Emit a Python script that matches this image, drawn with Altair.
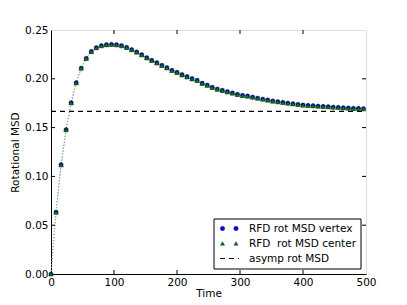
import altair as alt
import pandas as pd

times = [0, 8, 16, 24, 32, 40, 48, 56, 64, 72, 80, 88, 96, 104, 112, 120, 128, 136,
         144, 152, 160, 168, 176, 184, 192, 200, 208, 216, 224, 232, 240, 248, 256,
         264, 272, 280, 288, 296, 304, 312, 320, 328, 336, 344, 352, 360, 368, 376,
         384, 392, 400, 408, 416, 424, 432, 440, 448, 456, 464, 472, 480, 488, 496]

msd_vertex = [0.0, 0.0635, 0.112, 0.148, 0.1755, 0.196, 0.211, 0.221, 0.228, 0.232,
              0.234, 0.235, 0.2353, 0.235, 0.234, 0.2323, 0.230, 0.2275, 0.2247, 0.2216,
              0.219, 0.2165, 0.2138, 0.2114, 0.2087, 0.2067, 0.2042, 0.2022, 0.2001,
              0.1985, 0.1955, 0.1935, 0.1913, 0.1895, 0.1882, 0.1868, 0.1855, 0.1841,
              0.1831, 0.1824, 0.1813, 0.1803, 0.1793, 0.1783, 0.1773, 0.1766, 0.1759,
              0.1752, 0.1745, 0.1739, 0.1732, 0.1728, 0.1725, 0.1721, 0.1718, 0.1715,
              0.1711, 0.1708, 0.1704, 0.1701, 0.1698, 0.1698, 0.1694]

msd_center = [0.0, 0.0633, 0.1118, 0.1478, 0.1753, 0.1958, 0.2108, 0.2208, 0.2278, 0.2318,
              0.2338, 0.2348, 0.2351, 0.2348, 0.2338, 0.2321, 0.2298, 0.2273, 0.2245, 0.2214,
              0.2188, 0.2163, 0.2136, 0.2112, 0.2085, 0.2065, 0.2040, 0.2020, 0.1999,
              0.1983, 0.1953, 0.1933, 0.1911, 0.1893, 0.1880, 0.1866, 0.1853, 0.1839,
              0.1829, 0.1822, 0.1811, 0.1801, 0.1791, 0.1781, 0.1771, 0.1764, 0.1757,
              0.1750, 0.1743, 0.1737, 0.1730, 0.1726, 0.1723, 0.1719, 0.1716, 0.1713,
              0.1709, 0.1706, 0.1702, 0.1699, 0.1696, 0.1696, 0.1692]

msd_err = [0.0, 0.0002, 0.0003, 0.0004, 0.0005, 0.0006, 0.0007, 0.0008, 0.0008, 0.0009,
           0.0009, 0.0010, 0.0010, 0.0011, 0.0011, 0.0012, 0.0012, 0.0013, 0.0014, 0.0014,
           0.0015, 0.0015, 0.0016, 0.0017, 0.0017, 0.0018, 0.0019, 0.0020, 0.0020,
           0.0020, 0.0019, 0.0019, 0.0018, 0.0018, 0.0017, 0.0016, 0.0015, 0.0014,
           0.0013, 0.0012, 0.0011, 0.0010, 0.0010, 0.0009, 0.0009, 0.0008, 0.0008,
           0.0008, 0.0007, 0.0007, 0.0007, 0.0006, 0.0006, 0.0006, 0.0006, 0.0005,
           0.0005, 0.0005, 0.0005, 0.0005, 0.0005, 0.0005, 0.0005]

asymp_value = [0.1667]
x_ticks = [0, 100, 200, 300, 400, 500]
y_ticks = [0.0, 0.05, 0.10, 0.15, 0.20, 0.25]

W, H = 315, 244
FONT = "DejaVu Sans"
FS = 10.5

df = pd.DataFrame({
    "t": times,
    "vertex": msd_vertex,
    "center": msd_center,
    "err": msd_err,
})
df["v_lo"] = df["vertex"] - df["err"]
df["v_hi"] = df["vertex"] + df["err"]
df["c_lo"] = df["center"] - df["err"]
df["c_hi"] = df["center"] + df["err"]

xs = alt.Scale(domain=[0, 500], nice=False, zero=False)
ys = alt.Scale(domain=[0, 0.25], nice=False, zero=False)

xaxis = alt.Axis(values=x_ticks, format="d", ticks=False, grid=False, labelFont=FONT,
                 labelFontSize=FS, labelColor="black", labelPadding=3, domainColor="black",
                 titleFont=FONT, titleFontSize=FS, titleFontWeight="normal",
                 titleColor="black", titleBaseline="alphabetic", titleY=22,
                 labelFlush=False)
yaxis = alt.Axis(values=y_ticks, format=".2f", ticks=False, grid=False, labelFont=FONT,
                 labelFontSize=FS, labelColor="black", labelPadding=3, domainColor="black",
                 titleFont=FONT, titleFontSize=FS, titleFontWeight="normal",
                 titleColor="black", titlePadding=4, labelFlush=False)

base = alt.Chart(df)

axes_layer = base.mark_point(opacity=0).encode(
    x=alt.X("t:Q", scale=xs, axis=xaxis, title="Time"),
    y=alt.Y("vertex:Q", scale=ys, axis=yaxis, title="Rotational MSD"),
)

err_v = base.mark_rule(color="#9cc7c7", strokeWidth=1, opacity=0.8).encode(
    x=alt.X("t:Q", scale=xs), y=alt.Y("v_lo:Q", scale=ys), y2="v_hi:Q")
err_c = base.mark_rule(color="#a9d6b8", strokeWidth=1, opacity=0.8).encode(
    x=alt.X("t:Q", scale=xs), y=alt.Y("c_lo:Q", scale=ys), y2="c_hi:Q")
cap_v_hi = base.mark_tick(color="#9cc7c7", orient="horizontal", size=5, thickness=1).encode(
    x=alt.X("t:Q", scale=xs), y=alt.Y("v_hi:Q", scale=ys))
cap_v_lo = base.mark_tick(color="#9cc7c7", orient="horizontal", size=5, thickness=1).encode(
    x=alt.X("t:Q", scale=xs), y=alt.Y("v_lo:Q", scale=ys))

line_v = base.mark_line(color="#1d5a6a", strokeDash=[1, 2], strokeWidth=1).encode(
    x=alt.X("t:Q", scale=xs), y=alt.Y("vertex:Q", scale=ys))
line_c = base.mark_line(color="#88c4a4", strokeDash=[1, 2], strokeWidth=1).encode(
    x=alt.X("t:Q", scale=xs), y=alt.Y("center:Q", scale=ys))

pts_v = base.mark_point(shape="circle", filled=True, fill="#0000ff", stroke="black",
                        strokeWidth=0.3, size=18, opacity=1).encode(
    x=alt.X("t:Q", scale=xs), y=alt.Y("vertex:Q", scale=ys))
pts_c = base.mark_point(shape="triangle-up", filled=True, fill="#008000", stroke="black",
                        strokeWidth=0.4, size=22, opacity=1).encode(
    x=alt.X("t:Q", scale=xs), y=alt.Y("center:Q", scale=ys))

asymp = alt.Chart(pd.DataFrame({"a": asymp_value})).mark_rule(
    color="black", strokeDash=[5, 4], strokeWidth=1.2).encode(
    y=alt.Y("a:Q", scale=ys), x=alt.value(0), x2=alt.value(W))

# inward ticks on all four sides
xt = pd.DataFrame({"v": x_ticks[1:-1]})
yt = pd.DataFrame({"v": y_ticks[1:-1]})
tick_len = 4
xt_bot = alt.Chart(xt).mark_rule(color="black", strokeWidth=1).encode(
    x=alt.X("v:Q", scale=xs), y=alt.value(H), y2=alt.value(H - tick_len))
xt_top = alt.Chart(xt).mark_rule(color="black", strokeWidth=1).encode(
    x=alt.X("v:Q", scale=xs), y=alt.value(0), y2=alt.value(tick_len))
yt_left = alt.Chart(yt).mark_rule(color="black", strokeWidth=1).encode(
    y=alt.Y("v:Q", scale=ys), x=alt.value(0), x2=alt.value(tick_len))
yt_right = alt.Chart(yt).mark_rule(color="black", strokeWidth=1).encode(
    y=alt.Y("v:Q", scale=ys), x=alt.value(W), x2=alt.value(W - tick_len))

# legend
one = alt.Data(values=[{"k": 1}])
lx0, lx1, ly0, ly1 = 163, 310, 189, 239
rows = [198.5, 213.5, 228.5]
mk1, mk2, tx = 171.5, 185, 198
legend_box = alt.Chart(one).mark_rect(fill="white", stroke="black", strokeWidth=1).encode(
    x=alt.value(lx0), x2=alt.value(lx1), y=alt.value(ly0), y2=alt.value(ly1))
leg_layers = [legend_box]
for mx in (mk1, mk2):
    leg_layers.append(alt.Chart(one).mark_point(shape="circle", filled=True, fill="#0000ff",
                                                stroke="black", strokeWidth=0.3, size=20,
                                                opacity=1).encode(
        x=alt.value(mx), y=alt.value(rows[0])))
    leg_layers.append(alt.Chart(one).mark_point(shape="triangle-up", filled=True,
                                                fill="#008000", stroke="black",
                                                strokeWidth=0.4, size=16, opacity=1).encode(
        x=alt.value(mx), y=alt.value(rows[1])))
leg_layers.append(alt.Chart(one).mark_rule(color="black", strokeDash=[5, 4],
                                           strokeWidth=1.2).encode(
    x=alt.value(169), x2=alt.value(188), y=alt.value(rows[2])))
labels = ["RFD rot MSD vertex", "RFD  rot MSD center", "asymp rot MSD"]
for lab, ry in zip(labels, rows):
    leg_layers.append(alt.Chart(one).mark_text(align="left", baseline="middle", font=FONT,
                                               fontSize=FS, color="black").encode(
        x=alt.value(tx), y=alt.value(ry), text=alt.value(lab.replace("  ", "\u00a0 "))))

chart = alt.layer(
    axes_layer, err_v, err_c, cap_v_hi, cap_v_lo, line_v, line_c, asymp, pts_v, pts_c,
    xt_bot, xt_top, yt_left, yt_right, *leg_layers
).properties(
    width=W, height=H,
    autosize=alt.AutoSizeParams(type="none"),
    padding={"left": 43, "top": 22, "right": 33, "bottom": 23},
).configure_view(stroke="black", strokeWidth=1).configure(background="white")

chart.save("out.html", embed_options={"renderer": "svg", "actions": False})
